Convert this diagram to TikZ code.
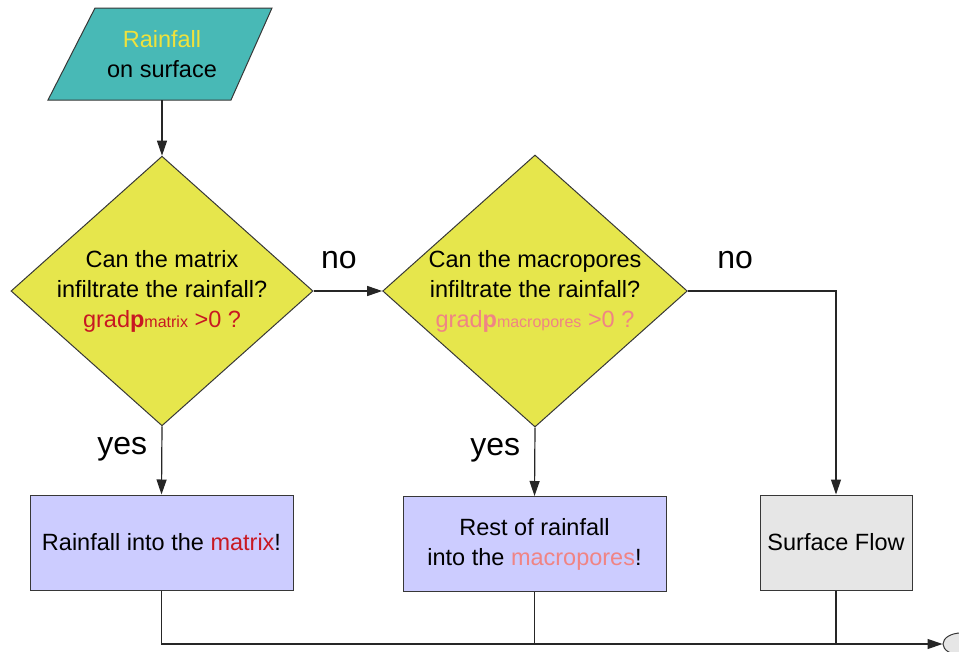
\documentclass[tikz,border=0pt]{standalone}
\usepackage{fontspec}
\setmainfont{Liberation Sans}
\usetikzlibrary{shapes.geometric,arrows.meta}

\definecolor{tealin}{RGB}{72,185,182}
\definecolor{rainyel}{RGB}{240,226,60}
\definecolor{decyel}{RGB}{230,230,76}
\definecolor{lav}{RGB}{204,204,255}
\definecolor{flowgray}{RGB}{230,230,230}
\definecolor{darkred}{RGB}{200,24,34}
\definecolor{pinkish}{RGB}{240,132,132}
\definecolor{edgegray}{RGB}{55,55,55}

\newcommand{\gradline}[2]{\textcolor{#1}{grad\textbf{p}{\fontsize{16}{16}\selectfont #2} >0 ?}}

\tikzset{
  txt/.style={font=\fontsize{23.5}{30}\selectfont, align=center},
  decision/.style={txt, diamond, draw=edgegray, fill=decyel, line width=1pt,
    minimum width=300pt, minimum height=267pt, inner sep=0pt, shape aspect=1.12},
  procbox/.style={txt, rectangle, draw=edgegray, fill=lav, line width=1pt,
    minimum width=263pt, minimum height=95pt},
  lbl/.style={font=\fontsize{32}{36}\selectfont, inner sep=3pt},
  arr/.style={-{Triangle[length=15pt,width=10pt]}}
}

\begin{document}
\begin{tikzpicture}[x=1pt,y=-1pt,line width=1.2pt,draw=black!85]
\useasboundingbox (0,0) rectangle (959,651);

% input parallelogram
\draw[fill=tealin, draw=edgegray, line width=1pt] (95,8) -- (272,8) -- (231,100) -- (48,100) -- cycle;
\node[txt] (in1) at (162,54) {\textcolor{rainyel}{Rainfall}\\on surface};
\coordinate (in1out) at (162,100);

\node[decision] (q1) at (162,291) {Can the matrix\\infiltrate the rainfall?\\\gradline{darkred}{matrix}};
\node[decision] (q2) at (535,291) {Can the macropores\\infiltrate the rainfall?\\\gradline{pinkish}{macropores}};
\node[procbox] (b1) at (161.5,542.5) {Rainfall into the \textcolor{darkred}{matrix}!};
\node[procbox] (b2) at (534.5,544) {Rest of rainfall\\into the \textcolor{pinkish}{macropores}!};
\node[procbox, fill=flowgray, minimum width=152pt] (b3) at (836,542.5) {Surface Flow};
\node[ellipse, draw=edgegray, fill=flowgray, line width=1pt, minimum width=36pt,
  minimum height=22pt, inner sep=0pt] (out) at (961,644) {};

\draw[arr] (in1out) -- (q1.north);
\draw[arr] (q1.east) -- node[lbl, above=19pt, pos=0.37] {no} (q2.west);
\draw[arr] (q2.east) -| node[lbl, above=19pt, pos=0.16] {no} (b3.north);
\draw[arr] (q1.south) -- node[lbl, left=11pt, pos=0.33] {yes} (b1.north);
\draw[arr] (q2.south) -- node[lbl, left=11pt, pos=0.33] {yes} (b2.north);

\draw[arr] (b1.south) |- (out.west);
\draw (b2.south) -- (b2.south |- out.west);
\draw (b3.south) -- (b3.south |- out.west);
\end{tikzpicture}
\end{document}
